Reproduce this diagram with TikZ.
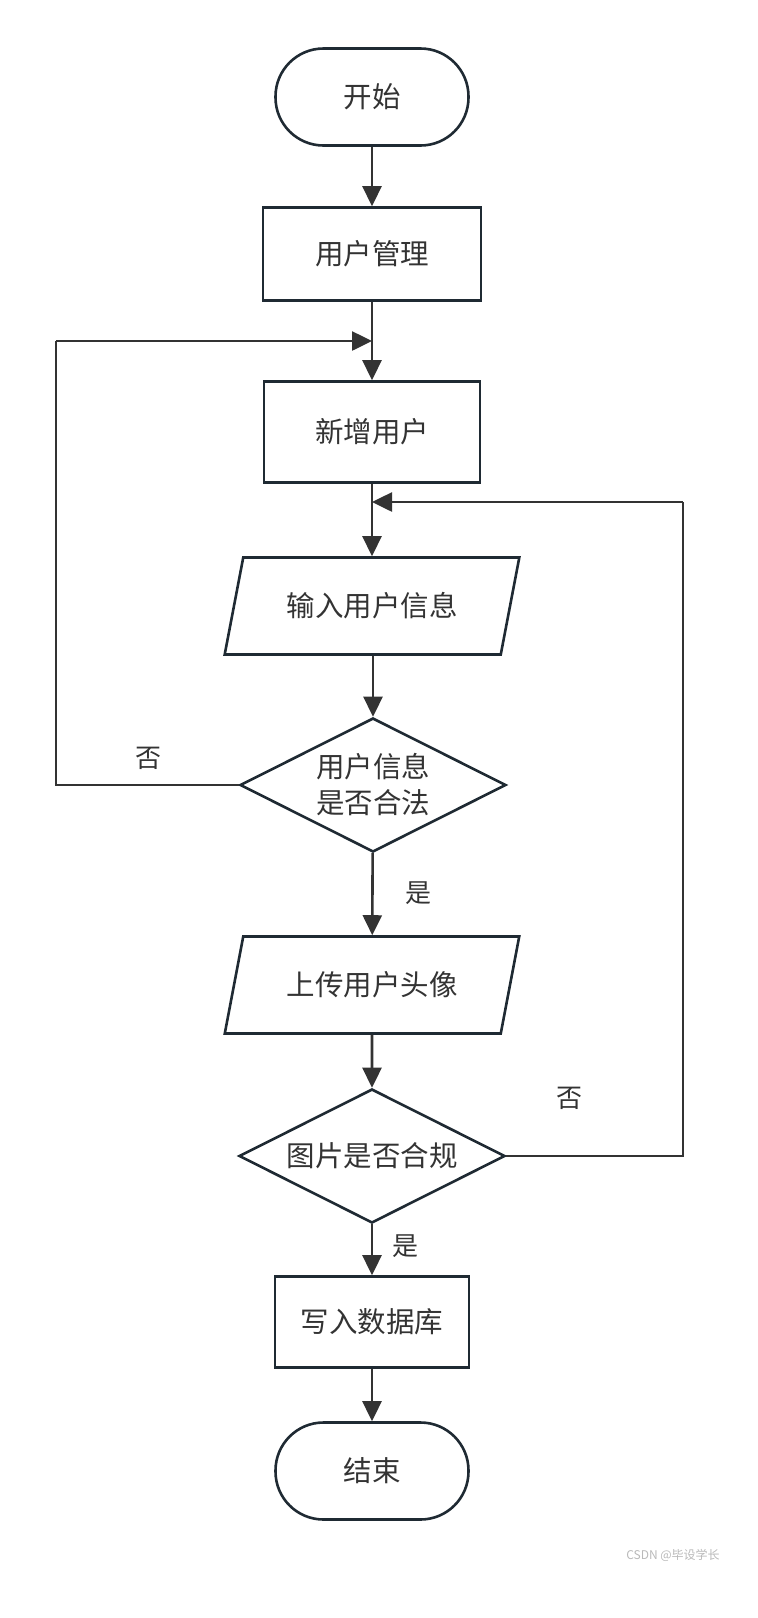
\documentclass[tikz,border=0pt]{standalone}
\usepackage{fontspec}
\newfontfamily\cjk{Noto Sans CJK SC}
\usetikzlibrary{shapes.geometric,arrows.meta}
\definecolor{bord}{HTML}{1F2A33}
\definecolor{lin}{HTML}{333333}
\definecolor{txt}{HTML}{333333}
\tikzset{
  base/.style={draw=bord, line width=2.6pt, text=txt, font=\cjk\fontsize{28.5}{36}\selectfont, align=center},
  term/.style={base, rectangle, rounded corners=48pt, minimum width=193pt, minimum height=97pt},
  proc/.style={base, rectangle, minimum height=93pt},
  io/.style={base, trapezium, trapezium left angle=69, trapezium right angle=111, trapezium stretches=true, minimum width=295pt, minimum height=97pt},
  dec/.style={base, diamond, aspect=2, inner sep=0pt, minimum width=266pt, minimum height=134pt},
  conn/.style={draw=lin, line width=2.6pt, -{Triangle[length=20pt,width=19pt]}},
  wire/.style={draw=lin, line width=2.6pt},
  lab/.style={text=txt, font=\cjk\fontsize{26}{30}\selectfont}
}
\begin{document}
\begin{tikzpicture}[x=1pt,y=-1pt]
\useasboundingbox (0,0) rectangle (758,1618);
\node[term] (start) at (372,97) {开始};
\node[proc, minimum width=218pt] (mgmt) at (372,254) {用户管理};
\node[proc, minimum width=216pt, minimum height=101pt] (add) at (372,432) {新增用户};
\node[io] (input) at (372,606) {输入用户信息};
\node[dec] (d1) at (373,785) {用户信息\\是否合法};
\node[io] (upload) at (372,985) {上传用户头像};
\node[dec] (d2) at (372,1156) {图片是否合规};
\node[proc, minimum width=194pt, minimum height=91pt] (write) at (372,1322) {写入数据库};
\node[term] (end) at (372,1471) {结束};

\coordinate (j1) at (372,341);
\coordinate (j2) at (372,502);
\coordinate (l1) at (56,785);
\coordinate (l2) at (56,341);
\coordinate (r1) at (683,1156);
\coordinate (r2) at (683,502);

\draw[conn] (start) -- (mgmt);
\draw[conn] (mgmt) -- (add);
\draw[conn] (add) -- (input);
\draw[conn] (input.south -| d1.north) -- (d1.north);
\draw[conn] (d1) -- (upload);
\draw[conn] (upload) -- (d2);
\draw[conn] (d2) -- (write);
\draw[conn] (write) -- (end);

\draw[wire] (d1.west) -- (l1) -- (l2);
\draw[conn] (l2) -- (j1);
\draw[wire] (d2.east) -- (r1) -- (r2);
\draw[conn] (r2) -- (j2);

\node[lab] (no1) at (148,758) {否};
\node[lab] (yes1) at (418,893) {是};
\node[lab] (no2) at (569,1098) {否};
\node[lab] (yes2) at (405,1246) {是};

\node[text=gray!55, font=\cjk\fontsize{12}{14}\selectfont] (wm) at (673,1555) {CSDN @毕设学长};
\end{tikzpicture}
\end{document}
